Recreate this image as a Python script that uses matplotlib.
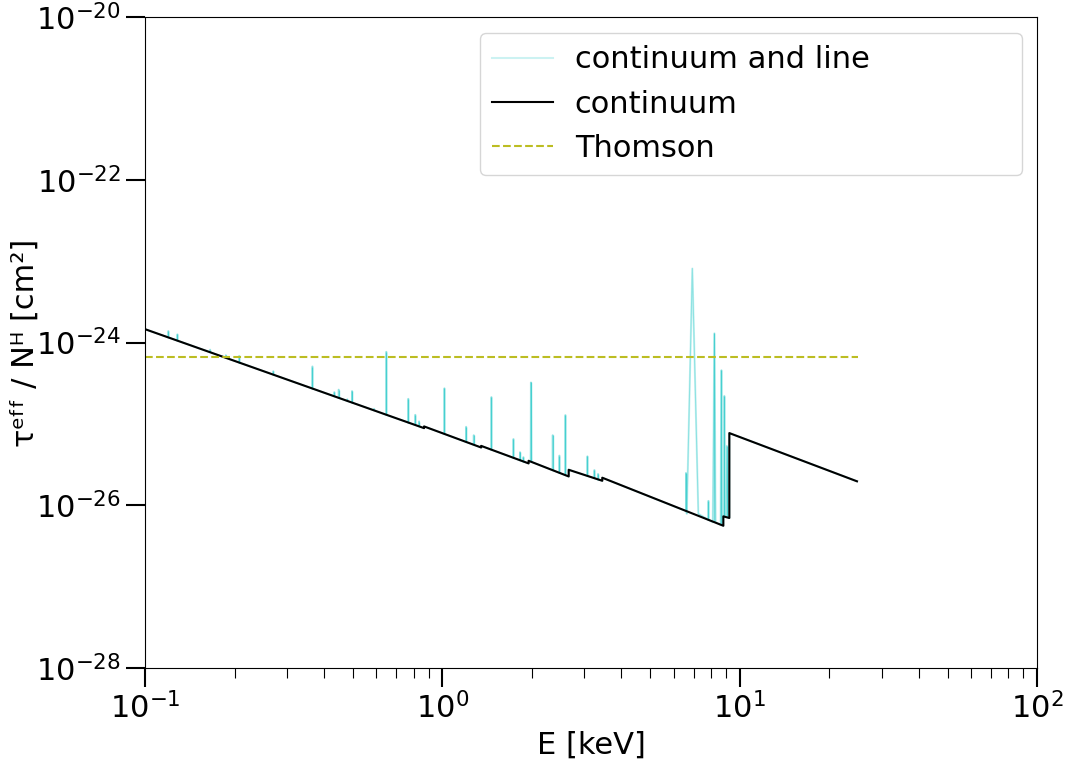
import numpy as np
import matplotlib.pyplot as plt
from matplotlib.ticker import LogLocator, NullLocator

# continuum: breakpoints, edges are the repeated energies
cont_E = [0.1, 0.868, 0.868, 1.35, 1.35, 1.95, 1.95, 2.66, 2.66,
          3.45, 3.45, 8.81, 8.81, 9.23, 9.23, 24.8]
cont_sigma = [1.46e-24, 8.87e-26, 9.31e-26, 5.13e-26, 5.37e-26, 3.27e-26, 3.52e-26,
              2.26e-26, 2.73e-26, 2.0e-26, 2.18e-26, 5.6e-27, 7.31e-27, 6.97e-27,
              7.71e-26, 1.97e-26]

# lines on top of the continuum: peak energy, foot energies, foot and peak values
line_E = [0.1198, 0.1285, 0.1655, 0.187, 0.2075, 0.270, 0.3656, 0.4332, 0.448, 0.479,
          0.497, 0.589, 0.648, 0.768, 0.811, 0.835, 1.016, 1.202, 1.275, 1.462,
          1.734, 1.825, 1.873, 1.986, 2.35, 2.475, 2.593, 3.075, 3.246, 3.34,
          6.60, 6.93, 7.85, 8.22, 8.68, 8.88, 9.05]
line_E_lo = [0.1198, 0.1285, 0.1655, 0.187, 0.2075, 0.270, 0.3656, 0.4332, 0.448, 0.479,
             0.497, 0.589, 0.648, 0.768, 0.811, 0.835, 1.016, 1.202, 1.275, 1.462,
             1.734, 1.825, 1.873, 1.979, 2.35, 2.475, 2.593, 3.075, 3.246, 3.34,
             6.60, 6.64, 7.85, 8.12, 8.62, 8.86, 9.00]
line_E_hi = [0.1198, 0.1285, 0.1655, 0.187, 0.2075, 0.270, 0.3656, 0.4332, 0.448, 0.479,
             0.497, 0.589, 0.648, 0.768, 0.811, 0.835, 1.016, 1.202, 1.275, 1.462,
             1.734, 1.825, 1.873, 1.994, 2.35, 2.475, 2.593, 3.075, 3.246, 3.34,
             6.60, 7.26, 7.85, 8.30, 8.72, 8.90, 9.12]
line_base = [1.156e-24, 1.057e-24, 7.60e-25, 6.49e-25, 5.68e-25, 4.03e-25, 2.72e-25,
             2.18e-25, 2.09e-25, 1.91e-25, 1.83e-25, 1.47e-25, 1.29e-25, 1.04e-25,
             9.68e-26, 9.33e-26, 7.52e-26, 5.98e-26, 5.52e-26, 4.81e-26, 3.82e-26,
             3.56e-26, 3.44e-26, 3.42e-26, 2.69e-26, 2.50e-26, 2.34e-26, 2.29e-26,
             2.15e-26, 2.07e-26, 8.47e-27, 7.85e-27, 6.62e-27, 6.19e-27, 5.73e-27,
             7.24e-27, 7.13e-27]
line_peak = [1.38e-24, 1.256e-24, 8.15e-25, 6.95e-25, 6.84e-25, 4.42e-25, 5.07e-25,
             2.45e-25, 2.63e-25, 2.0e-25, 2.52e-25, 1.53e-25, 7.67e-25, 2.03e-25,
             1.29e-25, 1.07e-25, 2.73e-25, 9.2e-26, 7.24e-26, 2.13e-25, 6.5e-26,
             4.47e-26, 3.89e-26, 3.24e-25, 7.24e-26, 4.07e-26, 1.28e-25, 3.98e-26,
             2.70e-26, 2.42e-26, 2.49e-26, 8.13e-24, 1.13e-26, 1.30e-24, 4.58e-25,
             2.21e-25, 5.37e-26]

thomson_E = [0.1, 25]
thomson_sigma = [6.65e-25, 6.65e-25]

# continuum + lines as one path sorted by energy
pts = list(zip(cont_E, cont_sigma))
for lo, e, hi, b, p in zip(line_E_lo, line_E, line_E_hi, line_base, line_peak):
    pts += [(lo, b), (e, p), (hi, b)]
pts = sorted(pts, key=lambda q: q[0])
full_E = [q[0] for q in pts]
full_sigma = [q[1] for q in pts]

# narrow lines look denser in the original (many overlapping strokes)
narrow = [i for i in range(len(line_E)) if line_E_hi[i] / line_E_lo[i] < 1.03]

fig = plt.figure(figsize=(10.68, 7.77), dpi=100)
ax = fig.add_subplot(111)
fig.subplots_adjust(left=0.1358, right=0.971, top=0.978, bottom=0.1403)

ax.plot(full_E, full_sigma, color='c', lw=1.5, alpha=0.2, label='continuum and line')
ax.plot(full_E, full_sigma, color='c', lw=0.8, alpha=0.3)
ax.vlines([line_E[i] for i in narrow], [line_base[i] for i in narrow],
          [line_peak[i] for i in narrow], color='c', lw=1.0, alpha=0.5)
ax.plot(cont_E, cont_sigma, color='k', lw=1.5, label='continuum')
ax.plot(thomson_E, thomson_sigma, '--', color='tab:olive', lw=1.5, label='Thomson')

ax.set_xscale('log')
ax.set_yscale('log')
ax.set_xlim(0.1, 100)
ax.set_ylim(1e-28, 1e-20)
ax.yaxis.set_major_locator(LogLocator(base=100.0, numticks=10))
ax.yaxis.set_minor_locator(NullLocator())

ax.tick_params(which='major', length=14, width=1.5, labelsize=22)
ax.tick_params(which='minor', length=7, width=0.8)

ax.set_xlabel('E [keV]', fontsize=22)
ax.set_ylabel('τᵉᶠᶠ / Nᴴ [cm²]', fontsize=22, labelpad=-3)
ax.legend(loc='upper left', bbox_to_anchor=(0.3756, 0.9754, 0.6076, 0.0),
          mode='expand', borderaxespad=0, fontsize=22, handletextpad=0.7)

fig.savefig('out.png', dpi=100)
